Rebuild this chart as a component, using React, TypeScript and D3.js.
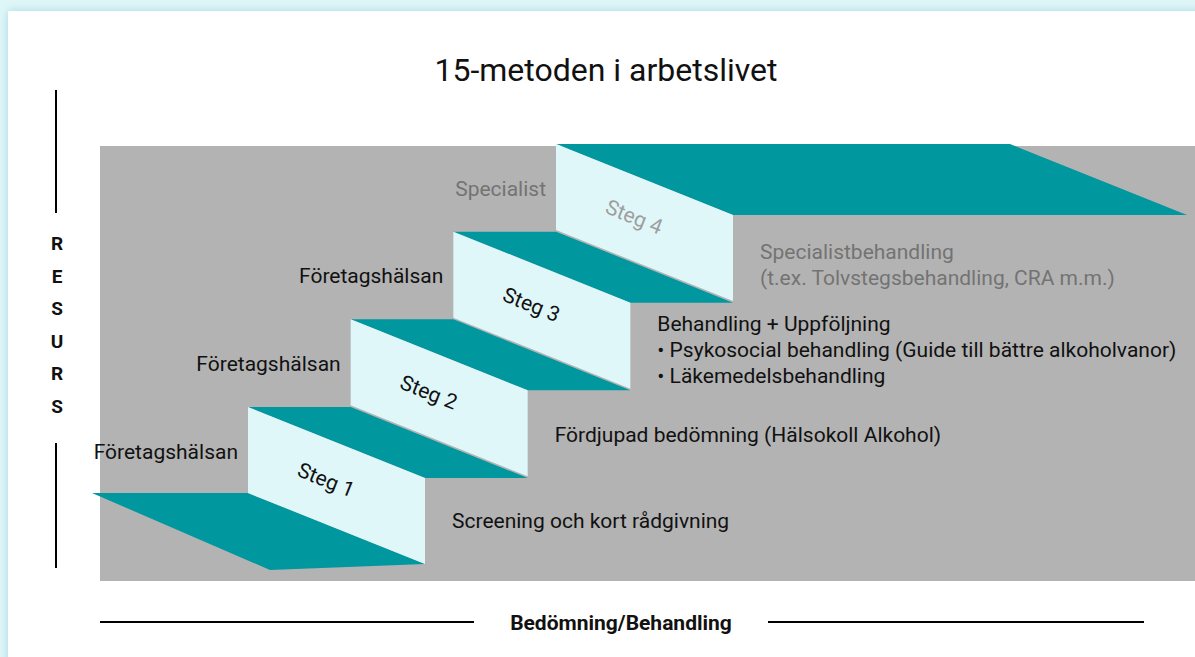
import React from "react";
import * as d3 from "d3";

const W = 1195;
const H = 657;

const stepNames = ["Steg 1", "Steg 2", "Steg 3", "Steg 4"];
const providerLabels = ["Företagshälsan", "Företagshälsan", "Företagshälsan", "Specialist"];
const stepDescriptions: string[][] = [
  ["Screening och kort rådgivning"],
  ["Fördjupad bedömning (Hälsokoll Alkohol)"],
  [
    "Behandling + Uppföljning",
    "• Psykosocial behandling (Guide till bättre alkoholvanor)",
    "• Läkemedelsbehandling",
  ],
  ["Specialistbehandling", "(t.ex. Tolvstegsbehandling, CRA m.m.)"],
];
const mutedSteps = [false, false, false, true];
const yAxisLetters = ["R", "E", "S", "U", "R", "S"];
const title = "15-metoden i arbetslivet";
const xAxisTitle = "Bedömning/Behandling";

const TEAL = "#00979f";
const RISER = "#e0f7fa";
const GRAY = "#b3b3b3";
const FONT = "Roboto, 'Noto Sans', sans-serif";

export default function App() {
  const idx = d3.range(stepNames.length);
  // step index -> riser left x, riser top y
  const x = d3.scaleLinear().domain([0, 3]).range([248, 556]);
  const yTop = d3.scaleLinear().domain([0, 3]).range([407, 144]);
  const textCenter = d3.scaleLinear().domain([0, 3]).range([522, 266]);
  const depth = 177;
  const slant = 71;
  const riserH = 86;

  const line = d3.line<[number, number]>().curve(d3.curveLinearClosed);

  const risers = idx.map((i) => {
    const x0 = x(i), y0 = yTop(i);
    const pts: [number, number][] = [
      [x0, y0],
      [x0 + depth, y0 + slant],
      [x0 + depth, y0 + slant + riserH],
      [x0, y0 + riserH],
    ];
    return pts;
  });

  const treads = idx.map((i) => {
    const x0 = x(i), y0 = yTop(i);
    const nextX = i < 3 ? x(i + 1) : 1010;
    const nextRightX = i < 3 ? x(i + 1) + depth : 1187;
    const pts: [number, number][] = [
      [x0, y0],
      [nextX, y0],
      [nextRightX, y0 + slant],
      [x0 + depth, y0 + slant],
    ];
    return pts;
  });

  const fx = x(0), fy = yTop(0) + riserH;
  const floor: [number, number][] = [
    [fx - 156, fy],
    [fx, fy],
    [fx + depth, fy + slant],
    [fx + 22, fy + 77],
  ];

  const angle = (Math.atan2(slant, depth) * 180) / Math.PI;
  const lineGap = 26;

  return (
    <svg
      width={W}
      height={H}
      style={{ position: "absolute", left: 0, top: 0, display: "block" }}
      fontFamily={FONT}
    >
      <defs>
        <filter id="sh" x="-5%" y="-5%" width="110%" height="110%">
          <feDropShadow dx="0" dy="0" stdDeviation="4" floodColor="#9fd6dc" floodOpacity="0.9" />
        </filter>
      </defs>
      <rect x={0} y={0} width={W} height={H} fill="#dff6f8" />
      <rect x={8} y={11} width={W + 20} height={H + 20} fill="#ffffff" filter="url(#sh)" />

      <text x={606} y={73} textAnchor="middle" dominantBaseline="middle" fontSize={32} fill="#111">
        {title}
      </text>

      <rect x={100} y={146} width={W - 100} height={435} fill={GRAY} />

      <path d={line(floor) || ""} fill={TEAL} />
      {treads.map((p, i) => (
        <path key={"t" + i} d={line(p) || ""} fill={TEAL} />
      ))}
      {risers.map((p, i) => (
        <path key={"r" + i} d={line(p) || ""} fill={RISER} />
      ))}

      {idx.map((i) => {
        const cx = x(i) + depth / 2 - 11;
        const cy = yTop(i) + slant / 2 + riserH / 2 - 4;
        return (
          <text
            key={"s" + i}
            x={cx}
            y={cy}
            transform={`rotate(${angle} ${cx} ${cy})`}
            textAnchor="middle"
            dominantBaseline="middle"
            fontSize={21}
            fill={mutedSteps[i] ? "#9e9e9e" : "#111"}
          >
            {stepNames[i]}
          </text>
        );
      })}

      {idx.map((i) => (
        <text
          key={"p" + i}
          x={x(i) - 10}
          y={yTop(i) + 46}
          textAnchor="end"
          dominantBaseline="middle"
          fontSize={21}
          fill={mutedSteps[i] ? "#737373" : "#111"}
        >
          {providerLabels[i]}
        </text>
      ))}

      {idx.map((i) => {
        const lines = stepDescriptions[i];
        const c = textCenter(i);
        const start = c - ((lines.length - 1) * lineGap) / 2;
        return (
          <g key={"d" + i}>
            {lines.map((l, k) => (
              <text
                key={k}
                x={x(i) + depth + 27}
                y={start + k * lineGap}
                dominantBaseline="middle"
                fontSize={21}
                fill={mutedSteps[i] ? "#737373" : "#111"}
              >
                {l}
              </text>
            ))}
          </g>
        );
      })}

      <line x1={56} x2={56} y1={90} y2={213} stroke="#000" strokeWidth={2} />
      <line x1={56} x2={56} y1={443} y2={568} stroke="#000" strokeWidth={2} />
      {yAxisLetters.map((l, k) => (
        <text
          key={"y" + k}
          x={57}
          y={245 + k * 32.6}
          textAnchor="middle"
          dominantBaseline="middle"
          fontSize={19}
          fontWeight="bold"
          fill="#111"
        >
          {l}
        </text>
      ))}

      <line x1={100} x2={474} y1={622} y2={622} stroke="#000" strokeWidth={2} />
      <line x1={768} x2={1144} y1={622} y2={622} stroke="#000" strokeWidth={2} />
      <text
        x={621}
        y={624}
        textAnchor="middle"
        dominantBaseline="middle"
        fontSize={21}
        fontWeight="bold"
        fill="#111"
      >
        {xAxisTitle}
      </text>
    </svg>
  );
}
